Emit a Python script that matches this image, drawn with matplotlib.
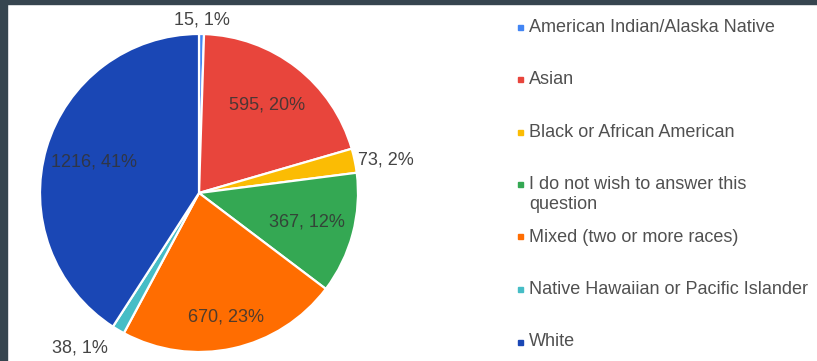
import numpy as np
import matplotlib
matplotlib.use("Agg")
import matplotlib.pyplot as plt
from matplotlib.patches import Rectangle

plt.rcParams["font.family"] = ["Liberation Sans", "DejaVu Sans"]

categories = [
    "American Indian/Alaska Native",
    "Asian",
    "Black or African American",
    "I do not wish to answer this\nquestion",
    "Mixed (two or more races)",
    "Native Hawaiian or Pacific Islander",
    "White",
]
counts = [15, 595, 73, 367, 670, 38, 1216]
colors = ["#4285f4", "#e8453c", "#fbbc04", "#34a853", "#ff6d01", "#46bdc6", "#1a47b5"]

# label radius (fraction of pie radius); values > 1 are drawn outside the slice
label_radius = [1.09, 0.70, 1.02, 0.70, 0.80, 1.13, 0.69]

W, H = 817, 361
fig = plt.figure(figsize=(W / 100, H / 100), dpi=100)
fig.patch.set_facecolor("white")

# dark frame along the top and left edges
fig.patches.append(Rectangle((0, 0), 7 / W, 1, transform=fig.transFigure, color="#36454f", zorder=0))
fig.patches.append(Rectangle((0, 1 - 4 / H), 1, 4 / H, transform=fig.transFigure, color="#36454f", zorder=0))

cx, cy, R = 199, 193, 159
ax = fig.add_axes([(cx - R) / W, (H - cy - R) / H, 2 * R / W, 2 * R / H])

wedges, _ = ax.pie(
    counts,
    colors=colors,
    startangle=90,
    counterclock=False,
    radius=1.0,
    wedgeprops=dict(edgecolor="white", linewidth=1.6),
)
ax.set_xlim(-1, 1)
ax.set_ylim(-1, 1)
ax.set_aspect("auto")
ax.axis("off")

total = sum(counts)
for w, n, r in zip(wedges, counts, label_radius):
    mid = np.deg2rad((w.theta1 + w.theta2) / 2)
    x, y = r * np.cos(mid), r * np.sin(mid)
    text = f"{n}, {round(100 * n / total)}%"
    if r > 1:
        ha = "left" if x > 0.2 else ("right" if x < -0.2 else "center")
        ax.text(x, y, text, ha=ha, va="center", fontsize=13, color="#444444", clip_on=False)
    else:
        ax.text(x, y, text, ha="center", va="center", fontsize=13, color="#333333", alpha=0.85)

# legend: colour square plus label, one slot per category
for i, (lab, col) in enumerate(zip(categories, colors)):
    ypx = 27 + 52.5 * i
    yf = 1 - ypx / H
    fig.patches.append(Rectangle((517.5 / W, yf - 2.5 / H), 5 / W, 5 / H,
                                 transform=fig.transFigure, color=col))
    for j, line in enumerate(lab.split("\n")):
        fig.text(529 / W, 1 - (ypx + 20 * j) / H, line, ha="left", va="center",
                 fontsize=13, color="#505050")

fig.savefig("out.png", dpi=100)
